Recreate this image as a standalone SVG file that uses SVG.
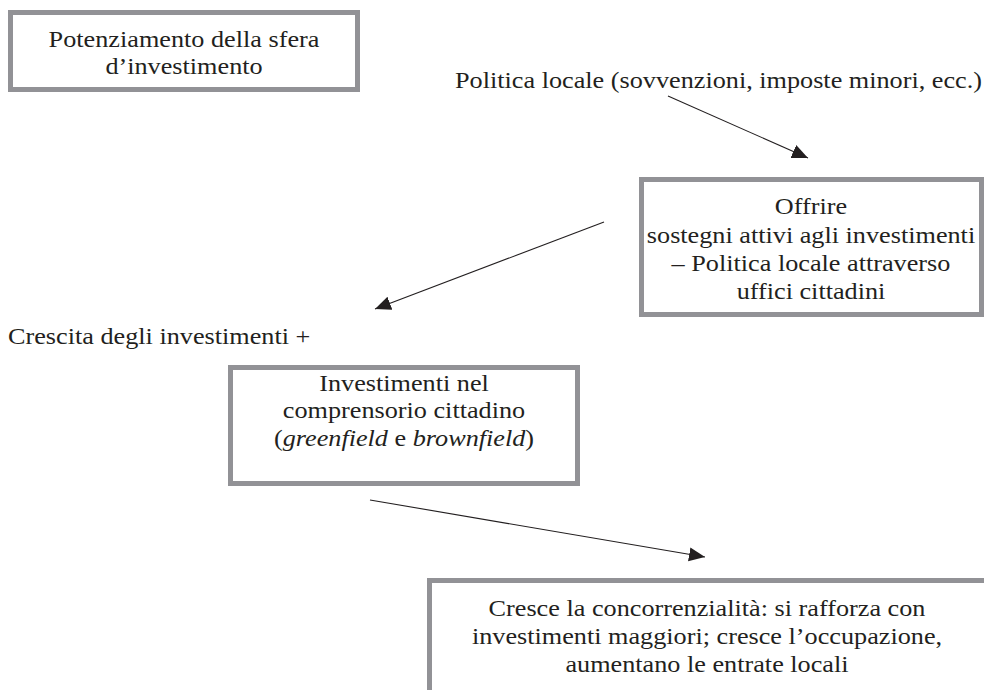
<svg xmlns="http://www.w3.org/2000/svg" width="984" height="690" viewBox="0 0 984 690">
<style>
.box{fill:#fff;stroke:#929296;stroke-width:5}
.t{font-family:"Liberation Serif","Times New Roman",serif;font-size:23px;fill:#231f20}
.c{text-anchor:middle}
.conn line{stroke:#231f20;stroke-width:1.1;fill:none}
</style>
<defs>
<marker id="ah" markerUnits="userSpaceOnUse" markerWidth="17" markerHeight="15" refX="16" refY="7" orient="auto">
<path d="M0,0 L16,7 L0,14 z" fill="#231f20"/>
</marker>
</defs>
<rect width="984" height="690" fill="#fff"/>
<g id="node-potenziamento">
<rect class="box" x="10.5" y="12.5" width="347" height="77"/>
<text class="t c" transform="translate(184 47) scale(1.14 1)">Potenziamento della sfera</text>
<text class="t c" transform="translate(184 74) scale(1.14 1)">d’investimento</text>
</g>
<g id="node-politica">
<text class="t" transform="translate(455 88) scale(1.14 1)">Politica locale (sovvenzioni, imposte minori, ecc.)</text>
</g>
<g id="node-offrire">
<rect class="box" x="641.5" y="179.5" width="340" height="135"/>
<text class="t c" transform="translate(811 214) scale(1.14 1)">Offrire</text>
<text class="t c" transform="translate(811 243) scale(1.14 1)">sostegni attivi agli investimenti</text>
<text class="t c" transform="translate(811 271) scale(1.14 1)">– Politica locale attraverso</text>
<text class="t c" transform="translate(811 299) scale(1.14 1)">uffici cittadini</text>
</g>
<g id="node-crescita">
<text class="t" transform="translate(8 344) scale(1.14 1)">Crescita degli investimenti +</text>
</g>
<g id="node-investimenti">
<rect class="box" x="230.5" y="367.5" width="347" height="116"/>
<text class="t c" transform="translate(404 391) scale(1.14 1)">Investimenti nel</text>
<text class="t c" transform="translate(404 418) scale(1.14 1)">comprensorio cittadino</text>
<text class="t c" transform="translate(404 446) scale(1.14 1)">(<tspan font-style="italic">greenfield</tspan> e <tspan font-style="italic">brownfield</tspan>)</text>
</g>
<g id="node-cresce">
<rect class="box" x="429.5" y="580.5" width="600" height="200"/>
<text class="t c" transform="translate(707 616) scale(1.14 1)">Cresce la concorrenzialità: si rafforza con</text>
<text class="t c" transform="translate(707 644) scale(1.14 1)">investimenti maggiori; cresce l’occupazione,</text>
<text class="t c" transform="translate(707 672) scale(1.14 1)">aumentano le entrate locali</text>
</g>
<g id="connectors" class="conn">
<line x1="668" y1="96" x2="808" y2="158" marker-end="url(#ah)"/>
<line x1="604" y1="222" x2="375" y2="309" marker-end="url(#ah)"/>
<line x1="370" y1="500" x2="705" y2="557" marker-end="url(#ah)"/>
</g>
</svg>
